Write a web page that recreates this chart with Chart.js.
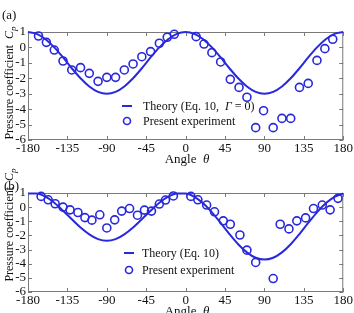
<!DOCTYPE html>
<html>
<head>
<meta charset="utf-8">
<script src="https://cdn.jsdelivr.net/npm/chart.js@4.4.0/dist/chart.umd.min.js"></script>
<style>
  html, body { margin: 0; padding: 0; background: #fff; }
  body { width: 354px; height: 313px; position: relative; overflow: hidden; }
  .panel { position: absolute; left: 0; width: 354px; }
</style>
</head>
<body>
<div class="panel" style="top:0;height:170px"><canvas id="chartA" width="354" height="170"></canvas></div>
<div class="panel" style="top:160px;height:153px"><canvas id="chartB" width="354" height="153"></canvas></div>
<script>
const xTicks = [-180, -135, -90, -45, 0, 45, 90, 135, 180]
const yTicks = [1, 0, -1, -2, -3, -4, -5, -6]

// theory curves, every 10 deg
const theoryAngle = [-180, -170, -160, -150, -140, -130, -120, -110, -100, -90, -80, -70, -60, -50, -40, -30, -20, -10,
  0, 10, 20, 30, 40, 50, 60, 70, 80, 90, 100, 110, 120, 130, 140, 150, 160, 170, 180]
const theoryA = [1, 0.88, 0.53, 0, -0.65, -1.35, -2, -2.53, -2.88, -3, -2.88, -2.53, -2, -1.35, -0.65, 0, 0.53, 0.88,
  1, 0.88, 0.53, 0, -0.65, -1.35, -2, -2.53, -2.88, -3, -2.88, -2.53, -2, -1.35, -0.65, 0, 0.53, 0.88, 1]
const theoryB = [0.97, 0.97, 0.74, 0.31, -0.25, -0.85, -1.44, -1.92, -2.26, -2.38, -2.26, -1.92, -1.44, -0.85, -0.25, 0.31, 0.74, 0.97,
  0.97, 0.73, 0.27, -0.37, -1.12, -1.9, -2.62, -3.2, -3.58, -3.71, -3.58, -3.2, -2.62, -1.9, -1.12, -0.37, 0.27, 0.73, 0.97]

// measured points (a)
const expAngleA = [-168, -159, -150, -140, -130, -120, -110, -100, -90, -80, -70, -60, -50, -40, -30, -21, -13,
  12, 21, 30, 40, 51, 61, 70, 80, 89, 100, 110, 120, 130, 140, 150, 159, 168]
const expCpA = [0.74, 0.33, -0.17, -0.88, -1.46, -1.31, -1.68, -2.2, -1.94, -1.94, -1.46, -1.07, -0.6, -0.27, 0.27, 0.66, 0.85,
  0.7, 0.22, -0.34, -0.94, -2.07, -2.59, -3.23, -5.2, -4.1, -5.2, -4.6, -4.6, -2.59, -2.33, -0.84, -0.08, 0.53]

// measured points (b)
const expAngleB = [-165, -157, -149, -140, -132, -123, -115, -107, -98, -90, -81, -73, -64, -55, -47, -39, -30, -23, -14,
  6, 14, 24, 33, 43, 51, 62, 70, 80, 100, 108, 118, 127, 137, 146, 156, 165, 174]
const expCpB = [0.76, 0.52, 0.24, 0.0, -0.19, -0.38, -0.74, -0.92, -0.54, -1.47, -0.9, -0.28, -0.1, -0.57, -0.21, -0.28, 0.22, 0.5, 0.79,
  0.76, 0.52, 0.15, -0.33, -0.97, -1.21, -1.97, -3.04, -3.91, -5.05, -1.21, -1.54, -0.97, -0.76, -0.1, 0.15, -0.19, 0.62]

const blue = 'rgb(40, 40, 220)'
const serif = '"Liberation Serif", "Times New Roman", serif'

// draws a row of text pieces, some italic
function pieces (ctx, parts, x, y, size) {
  parts.forEach(p => {
    ctx.font = (p.italic ? 'italic ' : '') + (p.sub ? size - 3 : size) + 'px ' + serif
    ctx.fillText(p.t, x, y + (p.sub ? 3 : 0))
    x += ctx.measureText(p.t).width
  })
  return x
}
function piecesWidth (ctx, parts, size) {
  let w = 0
  parts.forEach(p => {
    ctx.font = (p.italic ? 'italic ' : '') + (p.sub ? size - 3 : size) + 'px ' + serif
    w += ctx.measureText(p.t).width
  })
  return w
}

const decorate = {
  id: 'decorate',
  beforeDatasetsDraw (chart) {
    const { ctx, chartArea: a, scales: { x, y } } = chart
    ctx.save()
    ctx.strokeStyle = '#7a7a7a'
    ctx.lineWidth = 1
    ctx.strokeRect(a.left + 0.5, a.top + 0.5, a.right - a.left - 1, a.bottom - a.top - 1)
    ctx.beginPath()
    xTicks.forEach(v => {
      const px = Math.round(x.getPixelForValue(v)) + 0.5
      ctx.moveTo(px, a.bottom); ctx.lineTo(px, a.bottom - 4)
      ctx.moveTo(px, a.top); ctx.lineTo(px, a.top + 4)
    })
    yTicks.forEach(v => {
      const py = Math.round(y.getPixelForValue(v)) + 0.5
      ctx.moveTo(a.left, py); ctx.lineTo(a.left + 4, py)
      ctx.moveTo(a.right, py); ctx.lineTo(a.right - 4, py)
    })
    ctx.stroke()
    ctx.restore()
  },
  afterDraw (chart, args, o) {
    const { ctx } = chart
    ctx.save()
    ctx.fillStyle = '#111'
    ctx.textBaseline = 'alphabetic'
    // panel label
    ctx.font = '13px ' + serif
    ctx.fillText(o.panel, o.panelX, o.panelY)
    // x title
    const xt = [{ t: 'Angle  ' }, { t: 'θ', italic: true }]
    const xw = piecesWidth(ctx, xt, 13)
    pieces(ctx, xt, o.xTitleX - xw / 2, o.xTitleY, 13)
    // y title, rotated
    const yt = [{ t: 'Pressure coefficient  ' }, { t: 'C', italic: true }, { t: 'p', italic: true, sub: true }]
    const yw = piecesWidth(ctx, yt, 12)
    ctx.translate(o.yTitleX, o.yTitleY)
    ctx.rotate(-Math.PI / 2)
    pieces(ctx, yt, -yw / 2, 0, 12)
    ctx.setTransform(1, 0, 0, 1, 0, 0)
    // legend
    ctx.strokeStyle = blue
    ctx.lineWidth = 2
    ctx.beginPath()
    ctx.moveTo(o.legX, o.legY1); ctx.lineTo(o.legX + 10, o.legY1)
    ctx.stroke()
    ctx.lineWidth = 1.6
    ctx.beginPath()
    ctx.arc(o.legX + 5, o.legY2, 3.5, 0, Math.PI * 2)
    ctx.stroke()
    ctx.fillStyle = '#111'
    pieces(ctx, o.theoryText, o.legTextX, o.legY1 + 4, 12)
    pieces(ctx, [{ t: 'Present experiment' }], o.legTextX, o.legY2 + 4, 12)
    ctx.restore()
  }
}

function makeChart (id, theory, expAngle, expCp, deco, pad, xHeight) {
  const tickFont = { family: serif, size: 13 }
  return new Chart(document.getElementById(id), {
    type: 'scatter',
    data: {
      datasets: [
        {
          label: 'Theory',
          data: theoryAngle.map((t, i) => ({ x: t, y: theory[i] })),
          showLine: true,
          borderColor: blue,
          borderWidth: 2,
          pointRadius: 0,
          cubicInterpolationMode: 'monotone',
          clip: false,
          order: 2
        },
        {
          label: 'Present experiment',
          data: expAngle.map((t, i) => ({ x: t, y: expCp[i] })),
          showLine: false,
          borderColor: blue,
          backgroundColor: 'rgba(0,0,0,0)',
          borderWidth: 1.6,
          pointRadius: 4,
          clip: false,
          order: 1
        }
      ]
    },
    options: {
      responsive: false,
      animation: false,
      events: [],
      layout: { padding: pad },
      plugins: { legend: { display: false }, tooltip: { enabled: false }, decorate: deco },
      scales: {
        x: {
          type: 'linear',
          min: -180,
          max: 180,
          afterBuildTicks: s => { s.ticks = xTicks.map(v => ({ value: v })) },
          afterFit: s => { s.height = xHeight },
          grid: { display: false, drawTicks: false },
          border: { display: false },
          ticks: { font: tickFont, color: '#111', padding: 1, maxRotation: 0, autoSkip: false }
        },
        y: {
          type: 'linear',
          min: -6,
          max: 1,
          afterBuildTicks: s => { s.ticks = yTicks.map(v => ({ value: v })) },
          afterFit: s => { s.width = 28 },
          grid: { display: false, drawTicks: false },
          border: { display: false },
          ticks: { font: tickFont, color: '#111', padding: 2, autoSkip: false }
        }
      }
    },
    plugins: [decorate]
  })
}

makeChart('chartA', theoryA, expAngleA, expCpA, {
  panel: '(a)', panelX: 2, panelY: 19,
  xTitleX: 187, xTitleY: 163,
  yTitleX: 13, yTitleY: 83,
  legX: 122, legY1: 106, legY2: 121, legTextX: 143,
  theoryText: [{ t: 'Theory (Eq. 10,  ' }, { t: 'Γ', italic: true }, { t: ' = 0)' }]
}, { top: 32, right: 3, left: 0, bottom: 0 }, 30)

makeChart('chartB', theoryB, expAngleB, expCpB, {
  panel: '(b)', panelX: 4, panelY: 30,
  xTitleX: 187, xTitleY: 155,
  yTitleX: 13, yTitleY: 65,
  legX: 124, legY1: 93, legY2: 110, legTextX: 142,
  theoryText: [{ t: 'Theory (Eq. 10)' }]
}, { top: 33, right: 4, left: 0, bottom: 0 }, 21)
</script>
</body>
</html>
